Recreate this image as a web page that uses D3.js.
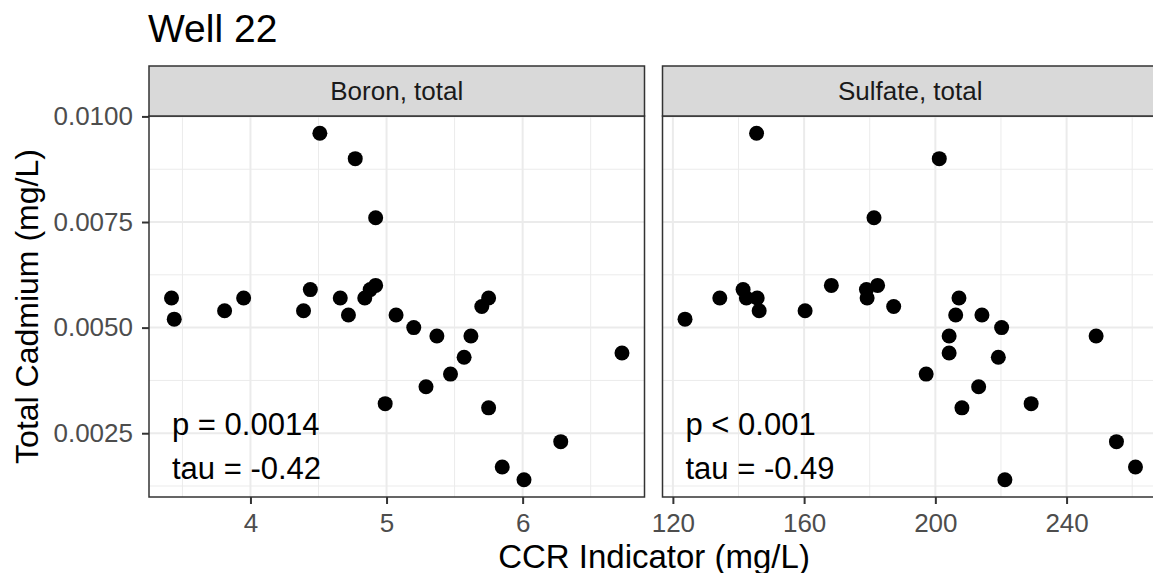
<!DOCTYPE html>
<html>
<head>
<meta charset="utf-8">
<script src="https://cdn.jsdelivr.net/npm/d3@7"></script>
<style>
  body { margin: 0; background: #fff; }
  text { font-family: "Liberation Sans", Arial, sans-serif; }
</style>
</head>
<body>
<script>
// values
var boronX = [3.42, 3.44, 3.81, 3.95, 4.39, 4.44, 4.51, 4.66, 4.72, 4.77, 4.84, 4.88, 4.92, 4.92, 4.99,
              5.07, 5.20, 5.29, 5.37, 5.47, 5.57, 5.62, 5.70, 5.75, 5.75, 5.85, 6.01, 6.28, 6.73];
var boronY = [0.0057, 0.0052, 0.0054, 0.0057, 0.0054, 0.0059, 0.0096, 0.0057, 0.0053, 0.0090, 0.0057, 0.0059, 0.0060, 0.0076, 0.0032,
              0.0053, 0.0050, 0.0036, 0.0048, 0.0039, 0.0043, 0.0048, 0.0055, 0.0057, 0.0031, 0.0017, 0.0014, 0.0023, 0.0044];

var sulfateX = [123.7, 134.3, 141.4, 142.4, 145.5, 145.7, 146.3, 160.3, 168.3, 179.0, 179.2, 181.3, 182.4, 187.3, 197.2,
                201.2, 204.2, 204.2, 206.2, 207.2, 208.1, 213.2, 214.2, 219.2, 220.2, 221.2, 229.2, 249.0, 255.2, 261.0];
var sulfateY = [0.0052, 0.0057, 0.0059, 0.0057, 0.0096, 0.0057, 0.0054, 0.0054, 0.0060, 0.0059, 0.0057, 0.0076, 0.0060, 0.0055, 0.0039,
                0.0090, 0.0048, 0.0044, 0.0053, 0.0057, 0.0031, 0.0036, 0.0053, 0.0043, 0.0050, 0.0014, 0.0032, 0.0048, 0.0023, 0.0017];

var panelNames = ["Boron, total", "Sulfate, total"];
var pLabels = ["p = 0.0014", "p < 0.001"];
var tauLabels = ["tau = -0.42", "tau = -0.49"];
var xTicks = [[4, 5, 6], [120, 160, 200, 240]];
var xMinor = [[3.5, 4.5, 5.5, 6.5], [140, 180, 220, 260]];
var yTicks = [0.0025, 0.0050, 0.0075, 0.0100];
var yMinor = [0.00125, 0.00375, 0.00625, 0.00875];

var W = 1153, H = 573;
var plotTop = 116, plotBottom = 497;
var panelLeft = [149, 662.5], panelW = 495.5;
var stripH = 50;

var svg = d3.select("body").append("svg")
    .attr("width", W).attr("height", H);

// ggplot style 5% expansion
function expand(ext) {
  var d = (ext[1] - ext[0]) * 0.05;
  return [ext[0] - d, ext[1] + d];
}

var y = d3.scaleLinear()
    .domain(expand(d3.extent(boronY.concat(sulfateY))))
    .range([plotBottom, plotTop]);

var panels = [
  {x: boronX, y: boronY},
  {x: sulfateX, y: sulfateY}
];

panels.forEach(function(p, i) {
  var x0 = panelLeft[i];
  var x = d3.scaleLinear()
      .domain(expand(d3.extent(p.x)))
      .range([x0, x0 + panelW]);

  var g = svg.append("g");

  // grid
  g.selectAll(".ymin").data(yMinor).enter().append("line")
      .attr("x1", x0).attr("x2", x0 + panelW)
      .attr("y1", d => y(d)).attr("y2", d => y(d))
      .style("stroke", "#ebebeb").style("stroke-width", 1);
  g.selectAll(".xmin").data(xMinor[i]).enter().append("line")
      .attr("x1", d => x(d)).attr("x2", d => x(d))
      .attr("y1", plotTop).attr("y2", plotBottom)
      .style("stroke", "#ebebeb").style("stroke-width", 1);
  g.selectAll(".ymaj").data(yTicks).enter().append("line")
      .attr("x1", x0).attr("x2", x0 + panelW)
      .attr("y1", d => y(d)).attr("y2", d => y(d))
      .style("stroke", "#ebebeb").style("stroke-width", 2);
  g.selectAll(".xmaj").data(xTicks[i]).enter().append("line")
      .attr("x1", d => x(d)).attr("x2", d => x(d))
      .attr("y1", plotTop).attr("y2", plotBottom)
      .style("stroke", "#ebebeb").style("stroke-width", 2);

  // points
  g.selectAll("circle").data(p.x).enter().append("circle")
      .attr("cx", d => x(d))
      .attr("cy", (d, j) => y(p.y[j]))
      .attr("r", 7.5)
      .style("fill", "black");

  // text labels
  g.append("text").attr("x", x0 + 23).attr("y", 435)
      .style("font-size", "31px").style("fill", "black").text(pLabels[i]);
  g.append("text").attr("x", x0 + 23).attr("y", 479)
      .style("font-size", "31px").style("fill", "black").text(tauLabels[i]);

  // border
  g.append("rect")
      .attr("x", x0).attr("y", plotTop).attr("width", panelW).attr("height", plotBottom - plotTop)
      .style("fill", "none").style("stroke", "#333333").style("stroke-width", 1.5);

  // strip
  g.append("rect")
      .attr("x", x0).attr("y", plotTop - stripH).attr("width", panelW).attr("height", stripH)
      .style("fill", "#d9d9d9").style("stroke", "#333333").style("stroke-width", 1.5);
  g.append("text")
      .attr("x", x0 + panelW / 2).attr("y", plotTop - stripH / 2 + 9)
      .attr("text-anchor", "middle")
      .style("font-size", "26px").style("fill", "#1a1a1a")
      .text(panelNames[i]);

  // x axis
  var xAxis = svg.append("g")
      .attr("transform", "translate(0," + plotBottom + ")")
      .call(d3.axisBottom(x).tickValues(xTicks[i]).tickSize(7).tickPadding(10).tickFormat(d3.format("d")));
  xAxis.select(".domain").remove();
  xAxis.selectAll("line").style("stroke", "#333333").style("stroke-width", 2);
  xAxis.selectAll("text").style("font-size", "26px").style("fill", "#4d4d4d")
      .style("font-family", "Liberation Sans, Arial, sans-serif");
});

// y axis
var yAxis = svg.append("g")
    .attr("transform", "translate(" + panelLeft[0] + ",0)")
    .call(d3.axisLeft(y).tickValues(yTicks).tickSize(7).tickPadding(9).tickFormat(d3.format(".4f")));
yAxis.select(".domain").remove();
yAxis.selectAll("line").style("stroke", "#333333").style("stroke-width", 2);
yAxis.selectAll("text").style("font-size", "26px").style("fill", "#4d4d4d")
    .style("font-family", "Liberation Sans, Arial, sans-serif");

// titles
svg.append("text").attr("x", 148).attr("y", 42)
    .style("font-size", "39px").style("fill", "black").text("Well 22");

svg.append("text")
    .attr("transform", "translate(38," + ((plotTop + plotBottom) / 2) + ") rotate(-90)")
    .attr("text-anchor", "middle")
    .style("font-size", "32px").style("fill", "black")
    .text("Total Cadmium (mg/L)");

svg.append("text")
    .attr("x", 654).attr("y", 568)
    .attr("text-anchor", "middle")
    .style("font-size", "33px").style("fill", "black")
    .text("CCR Indicator (mg/L)");
</script>
</body>
</html>
